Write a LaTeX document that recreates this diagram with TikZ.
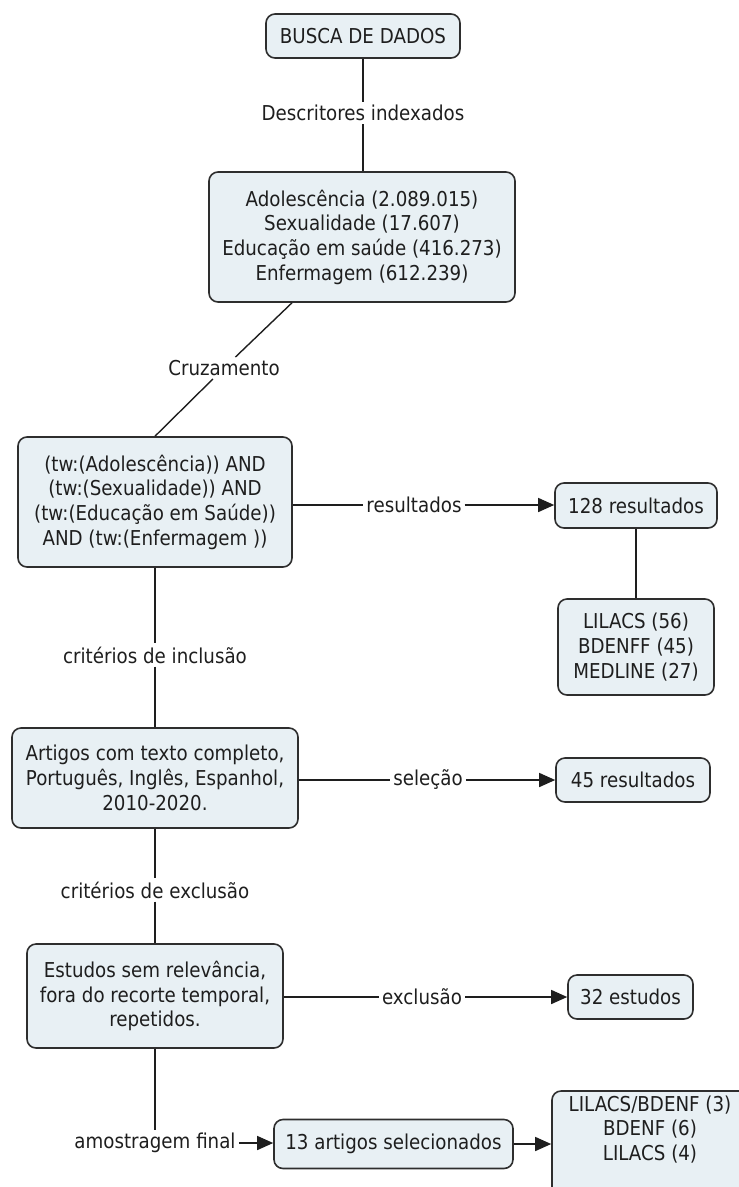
\documentclass[tikz,border=0pt]{standalone}
\usepackage{fontspec}
\setmainfont{DejaVu Sans}[FakeStretch=0.89]
\usetikzlibrary{arrows.meta}
\definecolor{boxfill}{HTML}{E8F0F4}
\definecolor{boxline}{HTML}{2E2E2E}
\definecolor{ink}{HTML}{1E1E1E}

\begin{document}
\begin{tikzpicture}[x=1pt,y=-1pt,
  every node/.style={font=\fontsize{20.5}{24.7}\selectfont, text=ink},
  concept/.style={draw=boxline, line width=1.6pt, fill=boxfill, rounded corners=9pt, align=center, inner sep=0pt},
  linkphrase/.style={inner sep=3pt, align=center},
  link/.style={draw=ink, line width=1.4pt},
  arrowlink/.style={link, -{Triangle[length=16pt,width=14pt]}}]

\useasboundingbox (0,0) rectangle (739,1187);
\clip (0,0) rectangle (739,1187);

% concepts and linking phrases
\node[concept, minimum width=194pt, minimum height=44pt] (busca) at (363,36) {BUSCA DE DADOS};
\node[linkphrase] (descr) at (363,113) {Descritores indexados};
\node[concept, minimum width=306pt, minimum height=130pt] (desc) at (362,237)
  {Adolescência (2.089.015)\\Sexualidade (17.607)\\Educação em saúde (416.273)\\Enfermagem (612.239)};
\node[linkphrase] (cruz) at (224,368) {Cruzamento};
\node[concept, minimum width=274pt, minimum height=130pt] (query) at (155,502)
  {(tw:(Adolescência)) AND\\(tw:(Sexualidade)) AND\\(tw:(Educação em Saúde))\\AND (tw:(Enfermagem ))};
\node[linkphrase] (res) at (414,505) {resultados};
\node[concept, minimum width=162pt, minimum height=45pt] (r128) at (636,505.5) {128 resultados};
\node[concept, minimum width=156pt, minimum height=96pt] (bases) at (636,647)
  {LILACS (56)\\BDENFF (45)\\MEDLINE (27)};
\node[linkphrase] (incl) at (155,655) {critérios de inclusão};
\node[concept, minimum width=286pt, minimum height=100pt] (filtro) at (155,778)
  {Artigos com texto completo,\\Português, Inglês, Espanhol,\\2010-2020.};
\node[linkphrase] (sel) at (428,780) {seleção};
\node[concept, minimum width=154pt, minimum height=44pt] (r45) at (633,780) {45 resultados};
\node[linkphrase] (excl) at (155,890) {critérios de exclusão};
\node[concept, minimum width=256pt, minimum height=104pt] (descarte) at (155,996)
  {Estudos sem relevância,\\fora do recorte temporal,\\repetidos.};
\node[linkphrase] (exc) at (422,997) {exclusão};
\node[concept, minimum width=125pt, minimum height=44pt] (r32) at (630.5,997) {32 estudos};
\node[linkphrase] (amostra) at (155,1143) {amostragem final};
\node[concept, minimum width=239pt, minimum height=49pt] (final) at (393.5,1144) {13 artigos selecionados};
% the last box runs past the lower edge; a blank strut line keeps its text near the top
\node[concept, minimum width=196pt, minimum height=106pt] (fontes) at (650,1144)
  {LILACS/BDENF (3)\\BDENF (6)\\LILACS (4)\\\strut};

% connectors
\draw[link] (busca.south) -- (descr.north);
\draw[link] (descr.south) -- (descr.south |- desc.north);
\draw[link] ([xshift=-70pt]desc.south) -- (cruz);
\draw[link] (cruz) -- (query.north);
\draw[link] (res.west -| query.east) -- (res.west);
\draw[arrowlink] (res.east) -- (res.east -| r128.west);
\draw[link] (r128.south) -- (r128.south |- bases.north);
\draw[link] (query.south) -- (incl.north);
\draw[link] (incl.south) -- (filtro.north);
\draw[link] (sel.west -| filtro.east) -- (sel.west);
\draw[arrowlink] (sel.east) -- (sel.east -| r45.west);
\draw[link] (filtro.south) -- (excl.north);
\draw[link] (excl.south) -- (descarte.north);
\draw[link] (exc.west -| descarte.east) -- (exc.west);
\draw[arrowlink] (exc.east) -- (exc.east -| r32.west);
\draw[link] (descarte.south) -- (amostra.north);
\draw[arrowlink] (amostra.east) -- (amostra.east -| final.west);
\draw[arrowlink] (final.east) -- (final.east -| fontes.west);
\end{tikzpicture}
\end{document}
